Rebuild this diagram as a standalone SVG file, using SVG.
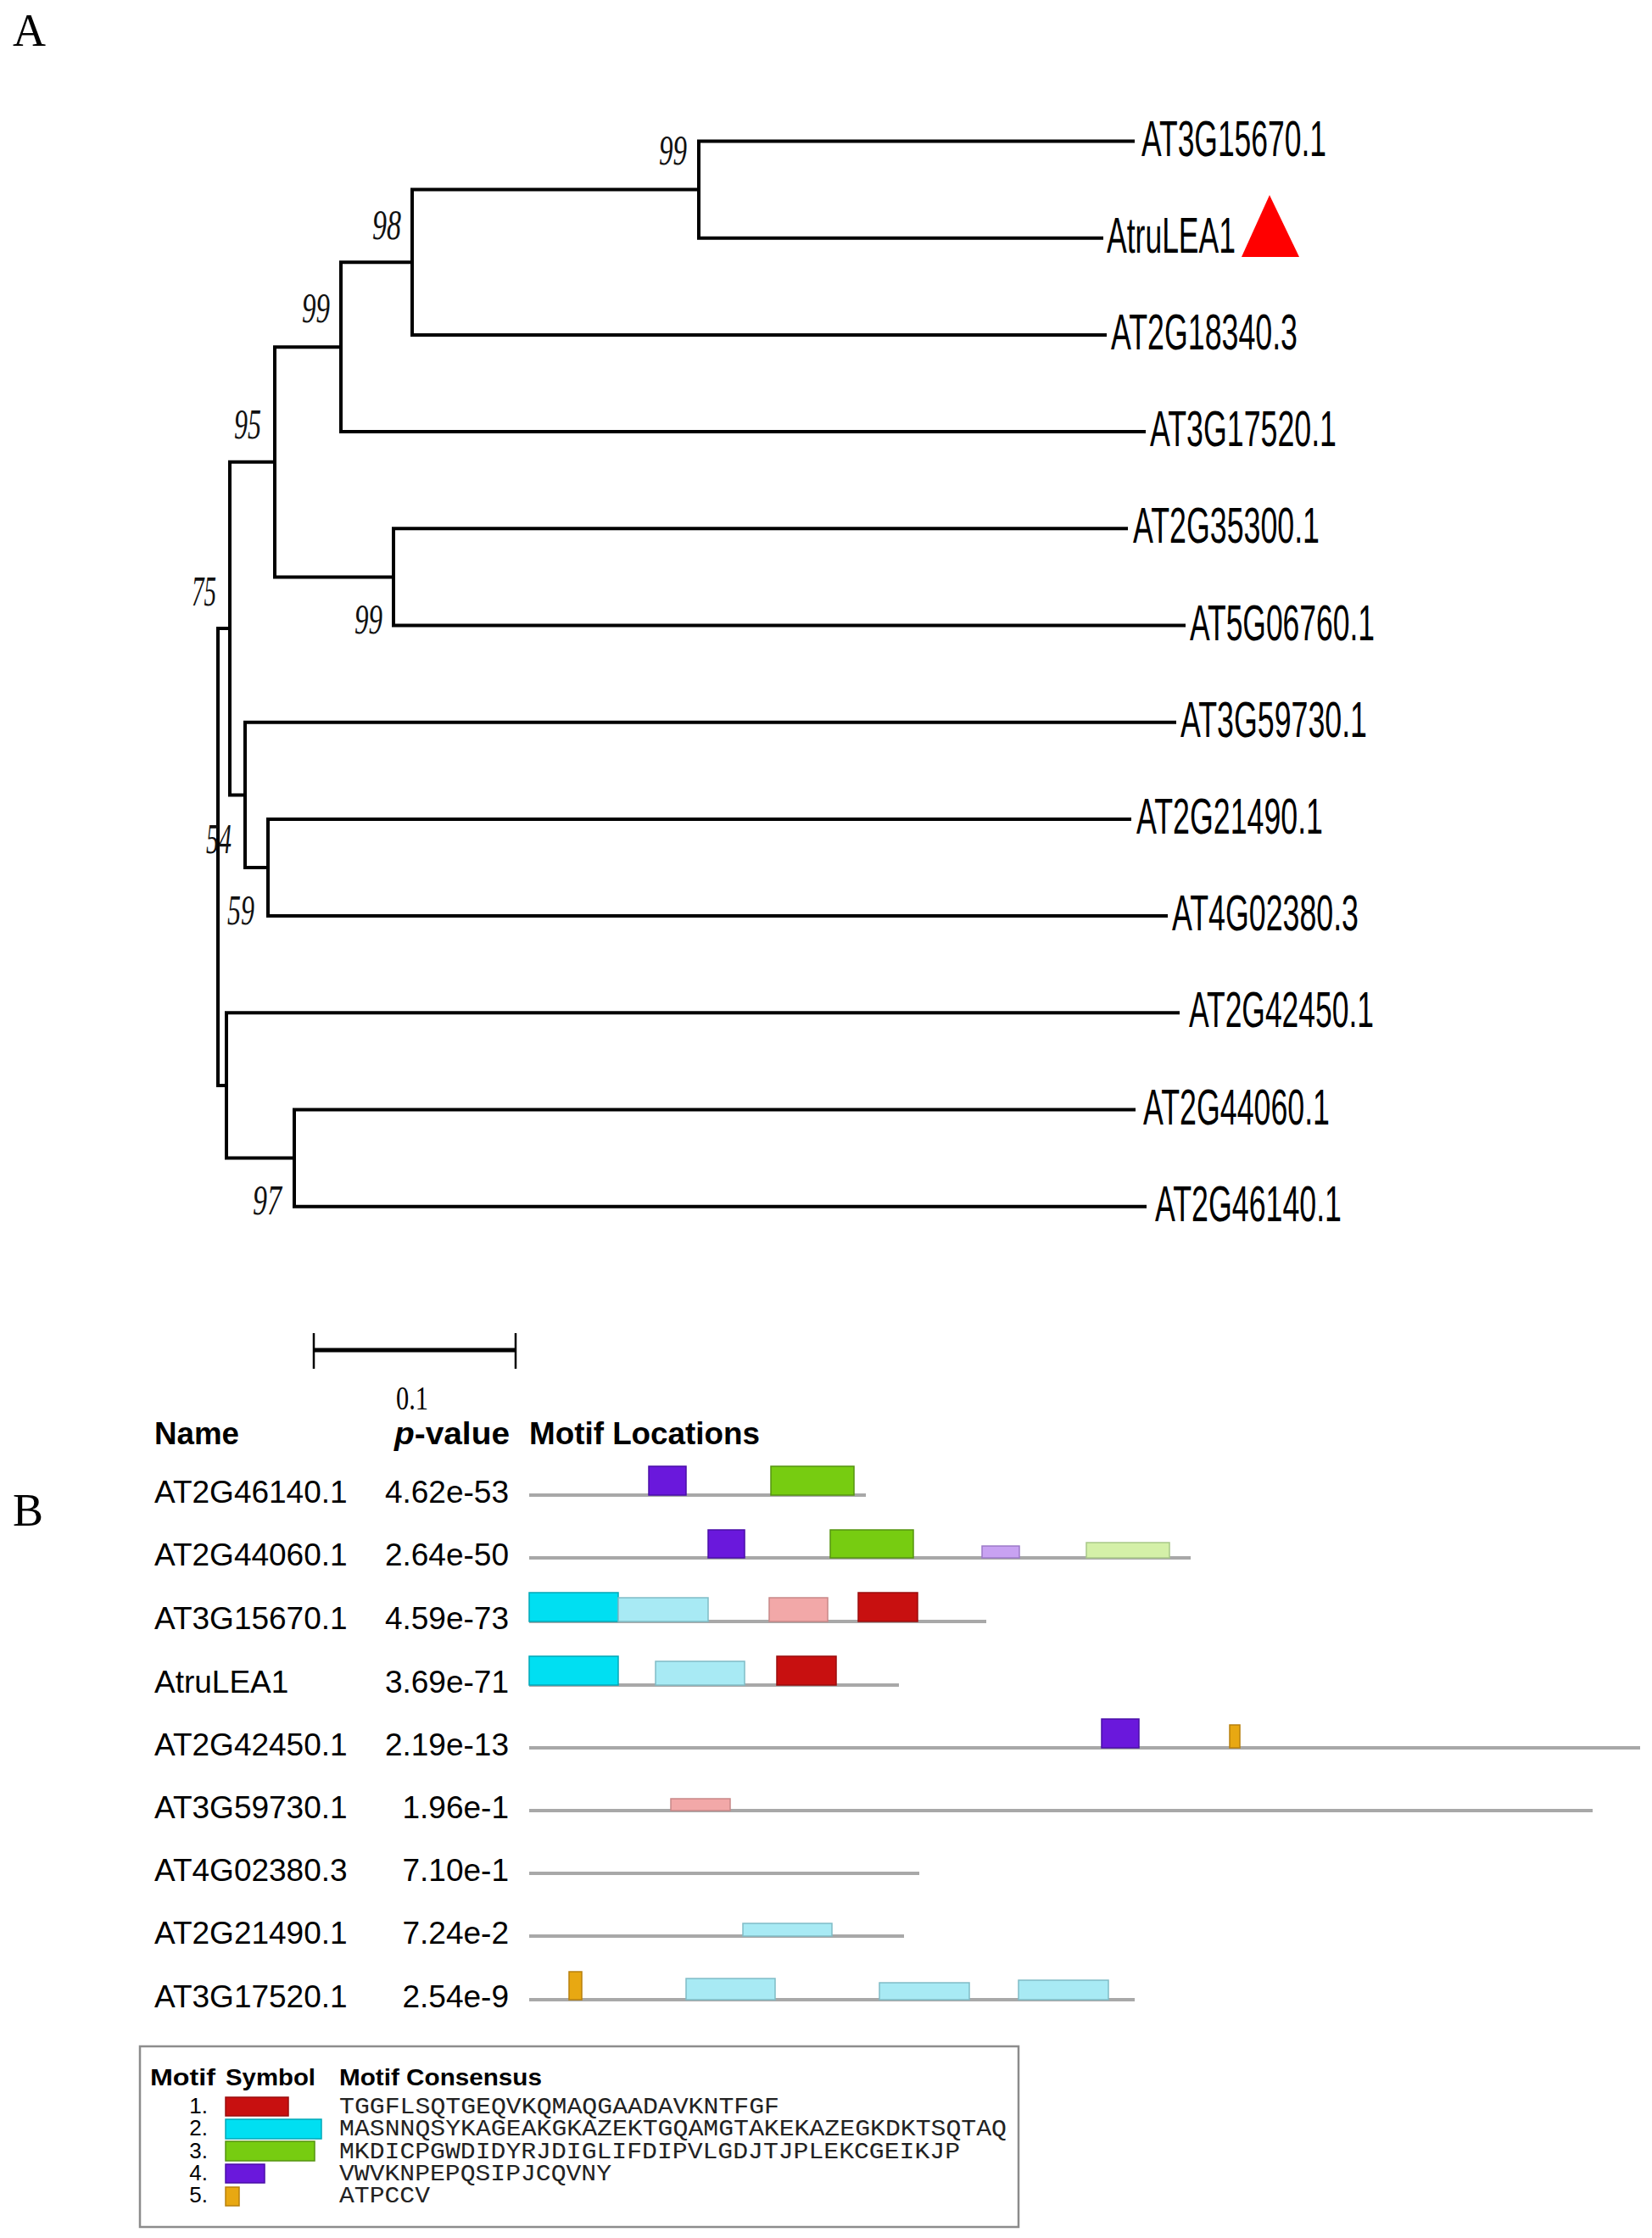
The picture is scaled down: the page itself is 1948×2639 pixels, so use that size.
<svg xmlns="http://www.w3.org/2000/svg" width="1948" height="2639" viewBox="0 0 1948 2639">
<style>
.br{stroke:#000;stroke-width:4;fill:none;stroke-linejoin:miter;stroke-linecap:square}
.tip{font-family:"Liberation Sans",Arial,sans-serif;font-size:60px;fill:#000}
.bs{font-family:"Liberation Serif","Times New Roman",serif;font-style:italic;font-size:50px;fill:#111}
.pl{font-family:"Liberation Serif","Times New Roman",serif;font-size:54px;fill:#000}
.row{font-family:"Liberation Sans",Arial,sans-serif;font-size:37px;fill:#000}
.hdr{font-family:"Liberation Sans",Arial,sans-serif;font-size:37px;font-weight:bold;fill:#000}
.lh{font-family:"Liberation Sans",Arial,sans-serif;font-size:28px;font-weight:bold;fill:#000}
.ln{font-family:"Liberation Sans",Arial,sans-serif;font-size:26px;fill:#000}
.mono{font-family:"Liberation Mono","Courier New",monospace;font-size:27px;fill:#222}
.trk{stroke:#a8a8a8;stroke-width:4}
.m1{fill:#c81010;stroke:#9a0c0c;stroke-width:1.5}
.m2{fill:#00dff2;stroke:#00a8b8;stroke-width:1.5}
.m3{fill:#77cc11;stroke:#559410;stroke-width:1.5}
.m4{fill:#6a18dc;stroke:#4a0ea8;stroke-width:1.5}
.m5{fill:#e8a812;stroke:#b8800c;stroke-width:1.5}
.m1l{fill:#f2a8a8;stroke:#c88888;stroke-width:1.5}
.m2l{fill:#a8eaf4;stroke:#80bcc6;stroke-width:1.5}
.m3l{fill:#d4f0a8;stroke:#a8c888;stroke-width:1.5}
.m4l{fill:#c8a2f2;stroke:#9c7ac8;stroke-width:1.5}
</style>

<text class="pl" x="15" y="54">A</text>
<text class="pl" x="15" y="1799">B</text>

<g id="tree-connectors">
<path class="br" d="M1336 166.5 H824 V280.7 H1299"/>
<path class="br" d="M824 223.6 H486 V394.9 H1303"/>
<path class="br" d="M486 309.25 H402 V509.1 H1349"/>
<path class="br" d="M402 409.2 H324 V680.4 H464"/>
<path class="br" d="M1328 623.3 H464 V737.5 H1396"/>
<path class="br" d="M324 544.8 H271 V937.4 H289"/>
<path class="br" d="M1385 851.7 H289 V1023 H316"/>
<path class="br" d="M1332 965.9 H316 V1080.1 H1375"/>
<path class="br" d="M271 741.1 H257 V1280 H267"/>
<path class="br" d="M1389 1194.3 H267 V1365.6 H347"/>
<path class="br" d="M1337 1308.5 H347 V1422.7 H1350"/>
</g>

<g id="bootstrap">
<text class="bs" x="777" y="194" textLength="33" lengthAdjust="spacingAndGlyphs">99</text>
<text class="bs" x="439" y="282" textLength="34" lengthAdjust="spacingAndGlyphs">98</text>
<text class="bs" x="356" y="380" textLength="33" lengthAdjust="spacingAndGlyphs">99</text>
<text class="bs" x="276" y="517" textLength="32" lengthAdjust="spacingAndGlyphs">95</text>
<text class="bs" x="226" y="714" textLength="29" lengthAdjust="spacingAndGlyphs">75</text>
<text class="bs" x="418" y="747" textLength="33" lengthAdjust="spacingAndGlyphs">99</text>
<text class="bs" x="243" y="1006" textLength="30" lengthAdjust="spacingAndGlyphs">54</text>
<text class="bs" x="268" y="1090" textLength="32" lengthAdjust="spacingAndGlyphs">59</text>
<text class="bs" x="298" y="1432" textLength="34" lengthAdjust="spacingAndGlyphs">97</text>
</g>

<g id="leaf-AT3G15670.1"><text class="tip" x="1346" y="183.5" textLength="218" lengthAdjust="spacingAndGlyphs">AT3G15670.1</text></g>
<g id="leaf-AtruLEA1"><text class="tip" x="1305" y="297.7" textLength="152" lengthAdjust="spacingAndGlyphs">AtruLEA1</text>
<polygon points="1464,303 1532,303 1497,230" fill="#ff0000"/></g>
<g id="leaf-AT2G18340.3"><text class="tip" x="1310" y="411.9" textLength="220" lengthAdjust="spacingAndGlyphs">AT2G18340.3</text></g>
<g id="leaf-AT3G17520.1"><text class="tip" x="1356" y="526.1" textLength="220" lengthAdjust="spacingAndGlyphs">AT3G17520.1</text></g>
<g id="leaf-AT2G35300.1"><text class="tip" x="1336" y="640.3" textLength="220" lengthAdjust="spacingAndGlyphs">AT2G35300.1</text></g>
<g id="leaf-AT5G06760.1"><text class="tip" x="1403" y="754.5" textLength="218" lengthAdjust="spacingAndGlyphs">AT5G06760.1</text></g>
<g id="leaf-AT3G59730.1"><text class="tip" x="1392" y="868.7" textLength="220" lengthAdjust="spacingAndGlyphs">AT3G59730.1</text></g>
<g id="leaf-AT2G21490.1"><text class="tip" x="1340" y="982.9" textLength="220" lengthAdjust="spacingAndGlyphs">AT2G21490.1</text></g>
<g id="leaf-AT4G02380.3"><text class="tip" x="1382" y="1097.1" textLength="220" lengthAdjust="spacingAndGlyphs">AT4G02380.3</text></g>
<g id="leaf-AT2G42450.1"><text class="tip" x="1402" y="1211.3" textLength="218" lengthAdjust="spacingAndGlyphs">AT2G42450.1</text></g>
<g id="leaf-AT2G44060.1"><text class="tip" x="1348" y="1325.5" textLength="220" lengthAdjust="spacingAndGlyphs">AT2G44060.1</text></g>
<g id="leaf-AT2G46140.1"><text class="tip" x="1362" y="1439.7" textLength="220" lengthAdjust="spacingAndGlyphs">AT2G46140.1</text></g>

<g id="scale-bar">
<line x1="370" y1="1592" x2="608" y2="1592" stroke="#000" stroke-width="5"/>
<line x1="370" y1="1572" x2="370" y2="1614" stroke="#000" stroke-width="2.5"/>
<line x1="608" y1="1572" x2="608" y2="1614" stroke="#000" stroke-width="2.5"/>
<text class="pl" x="467" y="1662" style="font-size:40px" textLength="38" lengthAdjust="spacingAndGlyphs">0.1</text>
</g>

<g id="motif-header">
<text class="hdr" x="182" y="1703" textLength="100" lengthAdjust="spacingAndGlyphs">Name</text>
<text class="hdr" x="465" y="1703" textLength="136" lengthAdjust="spacingAndGlyphs"><tspan font-style="italic">p</tspan>-value</text>
<text class="hdr" x="624" y="1703" textLength="272" lengthAdjust="spacingAndGlyphs">Motif Locations</text>
</g>

<g id="row-AT2G46140.1">
<text class="row" x="182" y="1772">AT2G46140.1</text>
<text class="row" x="600" y="1772" text-anchor="end">4.62e-53</text>
<line class="trk" x1="624" y1="1763" x2="1021" y2="1763"/>
<rect class="m4" x="765" y="1729" width="44" height="34"/>
<rect class="m3" x="909" y="1729" width="98" height="34"/>
</g>
<g id="row-AT2G44060.1">
<text class="row" x="182" y="1846">AT2G44060.1</text>
<text class="row" x="600" y="1846" text-anchor="end">2.64e-50</text>
<line class="trk" x1="624" y1="1837" x2="1404" y2="1837"/>
<rect class="m4" x="835" y="1804" width="43" height="33"/>
<rect class="m3" x="979" y="1804" width="98" height="33"/>
<rect class="m4l" x="1158" y="1823" width="44" height="14"/>
<rect class="m3l" x="1281" y="1819" width="98" height="18"/>
</g>
<g id="row-AT3G15670.1">
<text class="row" x="182" y="1921">AT3G15670.1</text>
<text class="row" x="600" y="1921" text-anchor="end">4.59e-73</text>
<line class="trk" x1="624" y1="1912" x2="1163" y2="1912"/>
<rect class="m2" x="624" y="1878" width="105" height="34"/>
<rect class="m2l" x="729" y="1884" width="106" height="28"/>
<rect class="m1l" x="907" y="1884" width="69" height="28"/>
<rect class="m1" x="1012" y="1878" width="70" height="34"/>
</g>
<g id="row-AtruLEA1">
<text class="row" x="182" y="1996">AtruLEA1</text>
<text class="row" x="600" y="1996" text-anchor="end">3.69e-71</text>
<line class="trk" x1="624" y1="1987" x2="1060" y2="1987"/>
<rect class="m2" x="624" y="1953" width="105" height="34"/>
<rect class="m2l" x="773" y="1959" width="105" height="28"/>
<rect class="m1" x="916" y="1953" width="70" height="34"/>
</g>
<g id="row-AT2G42450.1">
<text class="row" x="182" y="2070">AT2G42450.1</text>
<text class="row" x="600" y="2070" text-anchor="end">2.19e-13</text>
<line class="trk" x1="624" y1="2061" x2="1934" y2="2061"/>
<rect class="m4" x="1299" y="2027" width="44" height="34"/>
<rect class="m5" x="1450" y="2034" width="12" height="27"/>
</g>
<g id="row-AT3G59730.1">
<text class="row" x="182" y="2144">AT3G59730.1</text>
<text class="row" x="600" y="2144" text-anchor="end">1.96e-1</text>
<line class="trk" x1="624" y1="2135" x2="1878" y2="2135"/>
<rect class="m1l" x="791" y="2121" width="70" height="14"/>
</g>
<g id="row-AT4G02380.3">
<text class="row" x="182" y="2218">AT4G02380.3</text>
<text class="row" x="600" y="2218" text-anchor="end">7.10e-1</text>
<line class="trk" x1="624" y1="2209" x2="1084" y2="2209"/>
</g>
<g id="row-AT2G21490.1">
<text class="row" x="182" y="2292">AT2G21490.1</text>
<text class="row" x="600" y="2292" text-anchor="end">7.24e-2</text>
<line class="trk" x1="624" y1="2283" x2="1066" y2="2283"/>
<rect class="m2l" x="876" y="2268" width="105" height="15"/>
</g>
<g id="row-AT3G17520.1">
<text class="row" x="182" y="2367">AT3G17520.1</text>
<text class="row" x="600" y="2367" text-anchor="end">2.54e-9</text>
<line class="trk" x1="624" y1="2358" x2="1338" y2="2358"/>
<rect class="m5" x="671" y="2325" width="15" height="33"/>
<rect class="m2l" x="809" y="2333" width="105" height="25"/>
<rect class="m2l" x="1037" y="2338" width="106" height="20"/>
<rect class="m2l" x="1201" y="2335" width="106" height="23"/>
</g>

<g id="legend">
<rect x="165" y="2413" width="1036" height="213" fill="#fff" stroke="#8c8c8c" stroke-width="2.5"/>
<text class="lh" x="177" y="2459" textLength="77" lengthAdjust="spacingAndGlyphs">Motif</text>
<text class="lh" x="266" y="2459" textLength="106" lengthAdjust="spacingAndGlyphs">Symbol</text>
<text class="lh" x="400" y="2459" textLength="239" lengthAdjust="spacingAndGlyphs">Motif Consensus</text>
<text class="ln" x="245" y="2492" text-anchor="end">1.</text>
<text class="ln" x="245" y="2518" text-anchor="end">2.</text>
<text class="ln" x="245" y="2545" text-anchor="end">3.</text>
<text class="ln" x="245" y="2571" text-anchor="end">4.</text>
<text class="ln" x="245" y="2597" text-anchor="end">5.</text>
<rect class="m1" x="266" y="2473" width="74" height="22"/>
<rect class="m2" x="266" y="2499" width="113" height="23"/>
<rect class="m3" x="266" y="2525" width="105" height="23"/>
<rect class="m4" x="266" y="2552" width="46" height="22"/>
<rect class="m5" x="266" y="2579" width="16" height="22"/>
<text class="mono" x="400" y="2492" textLength="519" lengthAdjust="spacingAndGlyphs">TGGFLSQTGEQVKQMAQGAADAVKNTFGF</text>
<text class="mono" x="400" y="2518" textLength="787" lengthAdjust="spacingAndGlyphs">MASNNQSYKAGEAKGKAZEKTGQAMGTAKEKAZEGKDKTSQTAQ</text>
<text class="mono" x="400" y="2545" textLength="732" lengthAdjust="spacingAndGlyphs">MKDICPGWDIDYRJDIGLIFDIPVLGDJTJPLEKCGEIKJP</text>
<text class="mono" x="400" y="2571" textLength="321" lengthAdjust="spacingAndGlyphs">VWVKNPEPQSIPJCQVNY</text>
<text class="mono" x="400" y="2597" textLength="107" lengthAdjust="spacingAndGlyphs">ATPCCV</text>
</g>
</svg>
